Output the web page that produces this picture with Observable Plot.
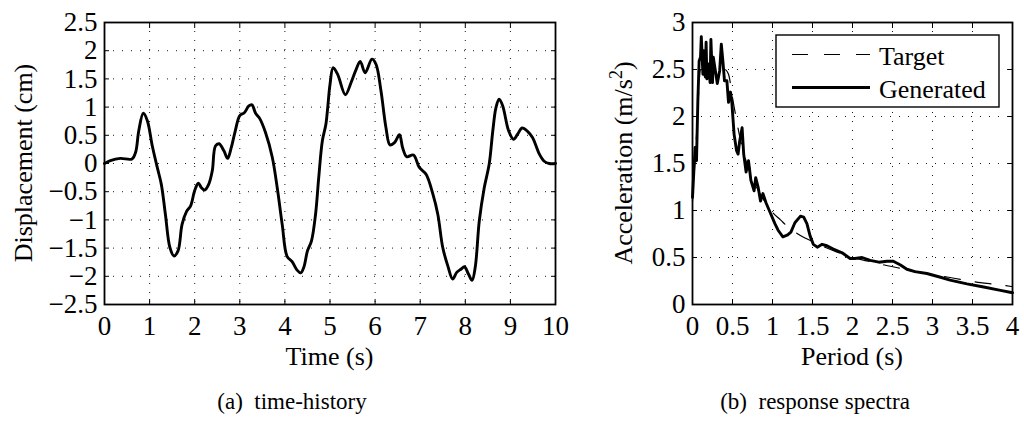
<!DOCTYPE html>
<html><head><meta charset="utf-8">
<script src="https://cdn.jsdelivr.net/npm/d3@7"></script>
<script src="https://cdn.jsdelivr.net/npm/@observablehq/plot@0.6"></script>
<style>
body{margin:0;background:#fff;}
#wrap{position:relative;width:1024px;height:421px;overflow:hidden;font-family:"Liberation Serif","Times New Roman",serif;}
#wrap svg{position:absolute;top:0;}
#wrap svg, #wrap svg text{font-family:"Liberation Serif","Times New Roman",serif !important;}
#wrap svg [aria-label$="tick label"] text, #wrap svg [aria-label$="tick label"]{font-size:27px !important;}
</style></head><body><div id="wrap"></div>
<script>
// ---- Data ----
const timeS = [0,0.13,0.35,0.61,0.69,0.76,0.86,0.95,1.06,1.17,1.26,1.35,1.45,1.54,1.63,1.72,1.82,1.91,2.0,2.08,2.15,2.22,2.31,2.39,2.46,2.54,2.65,2.73,2.81,2.9,3.0,3.1,3.2,3.27,3.35,3.44,3.57,3.72,3.83,3.94,4.05,4.16,4.27,4.35,4.42,4.5,4.59,4.68,4.75,4.83,4.91,4.95,5.0,5.07,5.17,5.34,5.47,5.58,5.67,5.78,5.93,6.02,6.13,6.24,6.33,6.43,6.54,6.61,6.7,6.85,6.98,7.13,7.28,7.39,7.5,7.61,7.72,7.81,7.91,7.98,8.07,8.15,8.22,8.31,8.42,8.53,8.61,8.68,8.75,8.83,8.96,9.07,9.16,9.26,9.38,9.49,9.64,9.75,9.86,10];
const dispCm = [0,0.05,0.09,0.08,0.2,0.58,0.89,0.76,0.31,-0.07,-0.37,-0.9,-1.49,-1.64,-1.55,-1.08,-0.85,-0.75,-0.48,-0.35,-0.43,-0.47,-0.37,-0.13,0.31,0.35,0.22,0.09,0.28,0.58,0.85,0.9,1.02,1.04,0.89,0.8,0.55,0.11,-0.43,-1.08,-1.65,-1.74,-1.89,-1.94,-1.84,-1.55,-1.37,-0.9,-0.25,0.4,0.7,1.0,1.4,1.70,1.58,1.22,1.44,1.67,1.81,1.61,1.85,1.76,1.29,0.64,0.33,0.37,0.51,0.28,0.12,0.15,-0.07,-0.19,-0.54,-0.9,-1.49,-1.81,-2.05,-1.93,-1.87,-1.83,-1.96,-2.07,-1.84,-1.02,-0.43,-0.01,0.58,0.99,1.14,1.02,0.58,0.43,0.52,0.63,0.57,0.46,0.17,0.04,0,0];

const periodGen = [0,0.017,0.033,0.05,0.067,0.083,0.1,0.11,0.13,0.14,0.16,0.17,0.18,0.2,0.22,0.23,0.25,0.26,0.28,0.31,0.34,0.36,0.38,0.4,0.43,0.45,0.475,0.49,0.52,0.55,0.57,0.59,0.62,0.64,0.67,0.7,0.73,0.77,0.79,0.82,0.85,0.88,0.92,0.98,1.03,1.07,1.13,1.19,1.23,1.28,1.35,1.39,1.43,1.47,1.51,1.56,1.62,1.68,1.76,1.87,1.97,2.03,2.12,2.22,2.33,2.43,2.51,2.6,2.68,2.78,2.93,3.1,3.22,3.43,3.64,3.85,4.0];
const accGen = [1.14,1.42,1.67,1.53,2.17,2.59,2.63,2.85,2.45,2.70,2.42,2.79,2.40,2.56,2.36,2.82,2.36,2.63,2.52,2.35,2.49,2.77,2.59,2.38,2.38,2.15,2.26,2.17,1.81,1.64,1.60,1.74,1.88,1.60,1.41,1.53,1.32,1.21,1.35,1.25,1.1,1.18,1.08,0.96,0.86,0.79,0.72,0.74,0.77,0.87,0.94,0.93,0.86,0.73,0.64,0.61,0.64,0.625,0.59,0.55,0.49,0.49,0.5,0.47,0.45,0.46,0.46,0.42,0.375,0.35,0.33,0.29,0.26,0.22,0.186,0.15,0.125];

const periodTarget = [0,0.05,0.1,0.15,0.2,0.3,0.4,0.45,0.5,0.6,0.7,0.8,0.9,1.0,1.1,1.2,1.3,1.4,1.5,1.6,1.8,2.0,2.2,2.4,2.6,2.8,3.0,3.2,3.4,3.6,3.8,4.0];
const accTarget = [1.1,1.8,2.5,2.5,2.5,2.5,2.5,2.45,2.2,1.75,1.45,1.25,1.1,0.98,0.9,0.82,0.76,0.71,0.67,0.63,0.56,0.5,0.46,0.42,0.385,0.35,0.32,0.29,0.26,0.232,0.213,0.19];

const timeTicks = [0,1,2,3,4,5,6,7,8,9,10];
const dispTicks = [-2.5,-2,-1.5,-1,-0.5,0,0.5,1,1.5,2,2.5];
const periodTicks = [0,0.5,1,1.5,2,2.5,3,3.5,4];
const accTicks = [0,0.5,1,1.5,2,2.5,3];
const seriesNames = ["Target","Generated"];
const xLabels = ["Time (s)","Period (s)"];
const yLabels = ["Displacement (cm)","Acceleration (m/s"];
const captions = ["(a)\u2002time-history","(b)\u2002response spectra"];

// ---- Helpers ----
const FONT = '"Liberation Serif","Times New Roman",serif';
const TICK_FS = 27;
const fmt = d => (d < 0 ? "\u2212" : "") + Math.abs(d);
const H = 421, MT = 22, MB = 117;

function panel({width, ml, mr, xDomain, yDomain, xTicks, yTicks, marks}) {
  const inner = (a) => a.slice(1, -1);
  return Plot.plot({
    width, height: H, marginTop: MT, marginBottom: MB, marginLeft: ml, marginRight: mr,
    style: {fontFamily: FONT, fontSize: TICK_FS + "px", background: "transparent", overflow: "visible", color: "#000"},
    x: {domain: xDomain},
    y: {domain: yDomain},
    marks: [
      Plot.gridX(inner(xTicks), {stroke: "#000", strokeOpacity: 0.9, strokeDasharray: "1,8", strokeWidth: 1}),
      Plot.gridY(inner(yTicks), {stroke: "#000", strokeOpacity: 0.9, strokeDasharray: "1,8", strokeWidth: 1}),
      ...marks,
      Plot.frame({stroke: "#000", strokeWidth: 1.8}),
      Plot.axisX(xTicks, {anchor: "bottom", tickSize: 0, tickPadding: 11, tickFormat: fmt, label: null, fontSize: TICK_FS}),
      Plot.axisX(xTicks, {anchor: "bottom", tickSize: 5, dy: -5, fill: "none", label: null}),
      Plot.axisX(xTicks, {anchor: "top", tickSize: 5, dy: 5, fill: "none", label: null}),
      Plot.axisY(yTicks, {anchor: "left", tickSize: 0, tickPadding: 7, tickFormat: fmt, label: null, fontSize: TICK_FS}),
      Plot.axisY(yTicks, {anchor: "left", tickSize: 5, dx: 5, fill: "none", label: null}),
      Plot.axisY(yTicks, {anchor: "right", tickSize: 5, dx: -5, fill: "none", label: null})
    ]
  });
}

const wrap = document.getElementById("wrap");

// ---- Left panel: time history ----
const thData = timeS.map((t, i) => ({t, d: dispCm[i]}));
const left = panel({
  width: 580, ml: 104, mr: 25,
  xDomain: [0, 10], yDomain: [-2.5, 2.5],
  xTicks: timeTicks, yTicks: dispTicks,
  marks: [Plot.line(thData, {x: "t", y: "d", stroke: "#000", strokeWidth: 2.9, curve: "catmull-rom"})]
});
left.style.left = "0px";
wrap.appendChild(left);

// ---- Right panel: response spectra ----
const genData = periodGen.map((p, i) => ({p, a: accGen[i]}));
const tgtData = periodTarget.map((p, i) => ({p, a: accTarget[i]}));
const RX = 580;
const right = panel({
  width: 444, ml: 112, mr: 12,
  xDomain: [0, 4], yDomain: [0, 3],
  xTicks: periodTicks, yTicks: accTicks,
  marks: [
    Plot.line(tgtData, {x: "p", y: "a", stroke: "#000", strokeWidth: 1.2, strokeDasharray: "16,15", curve: "monotone-x"}),
    Plot.line(genData, {x: "p", y: "a", stroke: "#000", strokeWidth: 2.9, curve: "linear", strokeLinejoin: "round"})
  ]
});
right.style.left = RX + "px";
wrap.appendChild(right);

// ---- Axis labels, legend, captions (SVG text) ----
function addText(svg, x, y, str, size, rotate, anchor = "middle") {
  const t = d3.select(svg).append("text")
    .attr("font-family", FONT).attr("font-size", size).attr("fill", "#000")
    .attr("text-anchor", anchor)
    .attr("transform", `translate(${x},${y})` + (rotate ? " rotate(-90)" : ""))
    .text(str);
  return t;
}
addText(left, 329.5, 365, xLabels[0], 26);
addText(left, 32, 163, yLabels[0], 26, true);
addText(left, 292, 409, captions[0], 23).style("white-space", "pre");

addText(right, 852 - RX, 365, xLabels[1], 26);
const yl = addText(right, 632 - RX, 163, "", 26, true);
yl.append("tspan").text(yLabels[1]);
yl.append("tspan").attr("dy", -10).attr("font-size", 18).text("2");
yl.append("tspan").attr("dy", 10).text(")");
addText(right, 815 - RX, 409, captions[1], 23).style("white-space", "pre");

// legend
const lg = d3.select(right).append("g").attr("transform", `translate(${776 - RX},35)`);
lg.append("rect").attr("width", 223).attr("height", 72).attr("fill", "#fff").attr("stroke", "#000").attr("stroke-width", 1.4);
const rows = [{y: 19.5, dash: "16,16", w: 1.2}, {y: 52.5, dash: null, w: 2.9}];
rows.forEach((r, i) => {
  lg.append("line").attr("x1", 16).attr("x2", 94).attr("y1", r.y).attr("y2", r.y)
    .attr("stroke", "#000").attr("stroke-width", r.w).attr("stroke-dasharray", r.dash);
  lg.append("text").attr("x", 103).attr("y", r.y + 10.5).attr("font-family", FONT).attr("font-size", 26)
    .attr("text-anchor", "start").attr("fill", "#000").text(seriesNames[i]);
});
</script></body></html>
